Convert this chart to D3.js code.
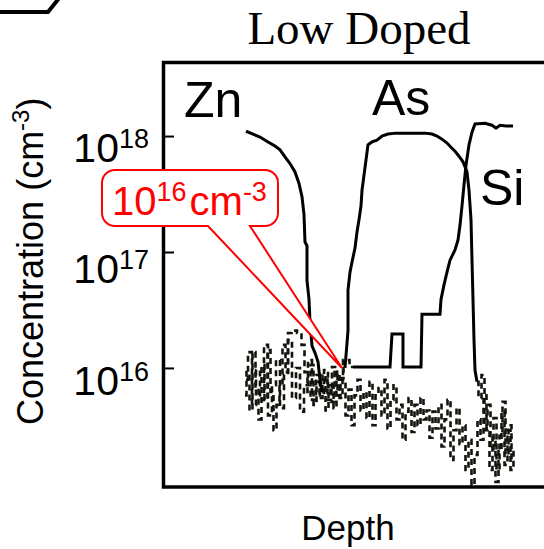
<!DOCTYPE html>
<html>
<head>
<meta charset="utf-8">
<script src="https://cdn.jsdelivr.net/npm/d3@7"></script>
<style>
  html, body { margin: 0; padding: 0; background: #fff; }
  svg { display: block; }
</style>
</head>
<body>
<svg id="chart" width="544" height="549"></svg>
<script>
// SIMS depth profile of the low-doped structure (depth in nm, concentration in cm^-3)

// Zn: surface plateau, steep drop, then background
const znDepth = [168,182,196,212,226,236,246,256,266,274,280,284,286,290,290,294,296,300,306,312,316,320,
  328,334,340,346,352,358,364,370,376,382,388,394,400,406,412,418,424,430,436,442,448,454,460,466,472,478,
  484,490,496,502,508,514,520,526,532,538,544,550,556,562,568,574,580,586,592,598,604,610,616,622,628,634,
  640,646,652,658,664,670,676,682,688,694,700,706];
const znConc = [1.10e18,1.04e18,9.8e17,8.9e17,8.2e17,7.6e17,6.6e17,5.8e17,4.9e17,3.9e17,3.0e17,2.1e17,1.22e17,1.13e17,5.7e16,3.9e16,2.5e16,1.55e16,1.35e16,1.13e16,7.9e15,6.2e15,
  8.2e15,5.3e15,7.1e15,4.5e15,9.2e15,5.5e15,7.9e15,3.9e15,6.5e15,3.2e15,5.8e15,7.9e15,4.3e15,6.2e15,3.7e15,7.6e15,3.2e15,5.8e15,6.7e15,3.9e15,7.9e15,3.0e15,5.3e15,7.1e15,3.6e15,4.8e15,
  2.4e15,4.2e15,5.5e15,2.8e15,4.8e15,3.2e15,5.5e15,3.6e15,4.3e15,2.5e15,4.2e15,3.0e15,4.8e15,2.1e15,3.6e15,5.3e15,1.61e15,2.9e15,4.5e15,2.2e15,3.2e15,1.32e15,2.4e15,9.8e14,1.78e15,3.6e15,
  2.4e15,5.8e15,3.0e15,1.32e15,2.5e15,1.04e15,1.96e15,4.2e15,1.46e15,2.9e15,1.32e15,2.0e15];
// index ranges of the profile: [start, end, kind]
const znParts = [[0, 21, "trace"], [21, 85, "noise"]];

// As: background, rise, ~1e18 plateau, sharp fall
const asDepth = [166,172,178,184,190,196,202,208,214,220,226,232,238,244,250,254,264,276,282,288,294,300,306,312,318,324,330,336,342,348,354,360,366,
  372,372,376,380,386,390,394,398,400,404,408,412,420,430,440,452,468,496,526,540,550,560,570,578,586,594,602,610,614,618,620,622,624,626,630,
  636,642,648,654,660,666,672,678,684,690,696,702];
const asConc = [5.8e15,9.2e15,4.3e15,1.37e16,6.7e15,3.6e15,1.06e16,5.3e15,1.43e16,6.2e15,2.9e15,4.8e15,7.1e15,1.58e16,9.2e15,2.0e16,2.1e16,2.0e16,1.58e16,9.2e15,5.8e15,1.06e16,4.8e15,7.6e15,5.5e15,8.7e15,4.3e15,7.1e15,5.1e15,9.2e15,5.8e15,8.2e15,1.0e16,
  2.1e16,4.7e16,6.7e16,8.2e16,1.08e17,1.49e17,1.9e17,2.5e17,3.4e17,4.6e17,6.2e17,8.4e17,8.9e17,9.2e17,1.0e18,1.04e18,1.06e18,1.06e18,1.06e18,1.04e18,1.0e18,9.4e17,8.7e17,8.0e17,7.4e17,6.7e17,6.0e17,4.9e17,3.4e17,1.9e17,8.5e16,3.9e16,1.74e16,9.6e15,7.6e15,
  5.5e15,8.7e15,2.9e15,4.8e15,2.0e15,3.7e15,1.32e15,2.6e15,5.1e15,1.78e15,3.2e15,1.55e15];
const asParts = [[0, 32, "noise"], [32, 67, "trace"], [67, 79, "noise"]];

// Si: background, stepped rise, plateau above 1e18
const siDepth = [168,176,184,192,200,208,216,224,232,240,248,256,264,272,280,288,296,304,312,320,328,336,344,356,368,382,
  456,460,482,482,518,520,556,558,564,570,576,586,592,596,600,604,608,614,620,626,646,660,668,676,688,702];
const siConc = [7.9e15,1.37e16,4.8e15,9.6e15,5.3e15,1.58e16,3.9e15,7.1e15,1.17e16,4.5e15,8.7e15,1.74e16,5.5e15,1.0e16,4.2e15,7.1e15,1.17e16,5.3e15,8.7e15,5.8e15,9.6e15,6.7e15,1.02e16,7.9e15,1.17e16,1.02e16,
  1.02e16,1.96e16,1.96e16,1.02e16,1.02e16,2.9e16,2.9e16,3.9e16,5.2e16,6.7e16,8.5e16,1.04e17,1.27e17,1.7e17,2.5e17,3.8e17,5.6e17,8.4e17,1.08e18,1.27e18,1.29e18,1.24e18,1.17e18,1.24e18,1.22e18,1.22e18];
const siParts = [[0, 25, "noise"], [25, 51, "trace"]];

// Species labels (depth, concentration at text baseline)
const speciesNames = ["Zn", "As", "Si"];
const speciesLabelDepth = [44, 420, 636];
const speciesLabelConc = [1.46e18, 1.52e18, 2.54e17];

// Y axis ticks
const tickValues = [1e18, 1e17, 1e16];
const tickExponents = ["18", "17", "16"];

// Annotated level
const markDepth = 360;
const markConc = 1e16;

const svg = d3.select("#chart");
const sans = "'Liberation Sans', Arial, sans-serif";

const x = d3.scaleLinear().domain([0, 800]).range([162, 562]);
const y = d3.scaleLog().domain([9.4e14, 4.44e18]).range([487, 61]);

// Title
svg.append("text")
  .attr("x", 359).attr("y", 44)
  .attr("text-anchor", "middle")
  .attr("font-family", "'Liberation Serif', 'Times New Roman', serif")
  .attr("font-size", 47)
  .attr("fill", "#000")
  .text("Low Doped");

// Corner of the neighbouring panel frame
svg.append("path")
  .attr("d", "M-2,12 L48,12 L60,-3")
  .attr("fill", "none").attr("stroke", "#000").attr("stroke-width", 4);

// Profiles, split into measured trace and noisy background stretches
const line = d3.line().x(d => x(d[0])).y(d => y(d[1]));
const noiseLine = d3.line().x(d => x(d[0])).y(d => y(d[1])).curve(d3.curveStep);
const pieces = [];
[[znDepth, znConc, znParts], [asDepth, asConc, asParts], [siDepth, siConc, siParts]]
  .forEach(([dep, conc, parts]) => {
    const pts = d3.zip(dep, conc);
    parts.forEach(([s, e, kind]) => pieces.push({ kind, pts: pts.slice(s, e + 1) }));
  });

const gProf = svg.append("g");
gProf.selectAll("path.noise")
  .data(pieces.filter(p => p.kind === "noise"))
  .join("path")
  .attr("class", "noise")
  .attr("d", d => noiseLine(d.pts))
  .attr("fill", "none")
  .attr("stroke", "#14140e")
  .attr("stroke-width", 2.6)
  .attr("stroke-dasharray", "6 4")
  .attr("stroke-linejoin", "miter");
gProf.selectAll("path.trace")
  .data(pieces.filter(p => p.kind === "trace"))
  .join("path")
  .attr("class", "trace")
  .attr("d", d => line(d.pts))
  .attr("fill", "none")
  .attr("stroke", "#000")
  .attr("stroke-width", 3)
  .attr("stroke-linejoin", "miter");

// Frame
svg.append("rect")
  .attr("x", 163.5).attr("y", 62.5)
  .attr("width", 430).attr("height", 424.5)
  .attr("fill", "none").attr("stroke", "#000").attr("stroke-width", 3.5);

// Left axis ticks (inside)
const axis = d3.axisLeft(y).tickValues(tickValues).tickSize(-10).tickFormat("");
const gAxis = svg.append("g").attr("transform", "translate(164,0)").call(axis);
gAxis.select(".domain").remove();
gAxis.selectAll(".tick line").attr("stroke", "#000").attr("stroke-width", 2);

// Tick labels 10^n
const tl = svg.append("g").selectAll("text")
  .data(tickValues)
  .join("text")
  .attr("x", 149)
  .attr("y", (d, i) => y(d) + [26, 31, 27][i])
  .attr("text-anchor", "end")
  .attr("font-family", sans)
  .attr("fill", "#000");
tl.append("tspan").attr("font-size", 41).text("10");
tl.append("tspan").attr("font-size", 27).attr("dy", -14).text((d, i) => tickExponents[i]);

// Species labels
svg.append("g").selectAll("text")
  .data(speciesNames)
  .join("text")
  .attr("x", (d, i) => x(speciesLabelDepth[i]))
  .attr("y", (d, i) => y(speciesLabelConc[i]))
  .attr("font-family", sans)
  .attr("font-size", 50)
  .attr("fill", "#000")
  .text(d => d);

// Axis titles
const yt = svg.append("text")
  .attr("transform", "translate(43,425) rotate(-90)")
  .attr("font-family", sans)
  .attr("font-size", 36)
  .attr("fill", "#000");
yt.append("tspan").text("Concentration (cm");
yt.append("tspan").attr("font-size", 24).attr("dy", -14).text("-3");
yt.append("tspan").attr("dy", 14).text(")");

svg.append("text")
  .attr("x", 348).attr("y", 540)
  .attr("text-anchor", "middle")
  .attr("font-family", sans)
  .attr("font-size", 35)
  .attr("fill", "#000")
  .text("Depth");

// Callout pointing at the 1e16 level
const tipX = x(markDepth), tipY = y(markConc);
const bx0 = 102, bx1 = 278, by0 = 170, by1 = 226, r = 13;
const t0 = 208, t1 = 250;
const callout = d3.path();
callout.moveTo(bx0 + r, by0);
callout.lineTo(bx1 - r, by0);
callout.arcTo(bx1, by0, bx1, by0 + r, r);
callout.lineTo(bx1, by1 - r);
callout.arcTo(bx1, by1, bx1 - r, by1, r);
callout.lineTo(t1, by1);
callout.lineTo(tipX, tipY);
callout.lineTo(t0, by1);
callout.lineTo(bx0 + r, by1);
callout.arcTo(bx0, by1, bx0, by1 - r, r);
callout.lineTo(bx0, by0 + r);
callout.arcTo(bx0, by0, bx0 + r, by0, r);
callout.closePath();
svg.append("path")
  .attr("d", callout.toString())
  .attr("fill", "#fff")
  .attr("stroke", "#ff0000")
  .attr("stroke-width", 2);

const ct = svg.append("text")
  .attr("x", 112).attr("y", 215)
  .attr("font-family", sans)
  .attr("fill", "#ff0000");
ct.append("tspan").attr("font-size", 40).text("10");
ct.append("tspan").attr("font-size", 27).attr("dy", -14).text("16");
ct.append("tspan").attr("font-size", 40).attr("dy", 14).attr("dx", 3).text("cm");
ct.append("tspan").attr("font-size", 27).attr("dy", -14).text("-3");
</script>
</body>
</html>
